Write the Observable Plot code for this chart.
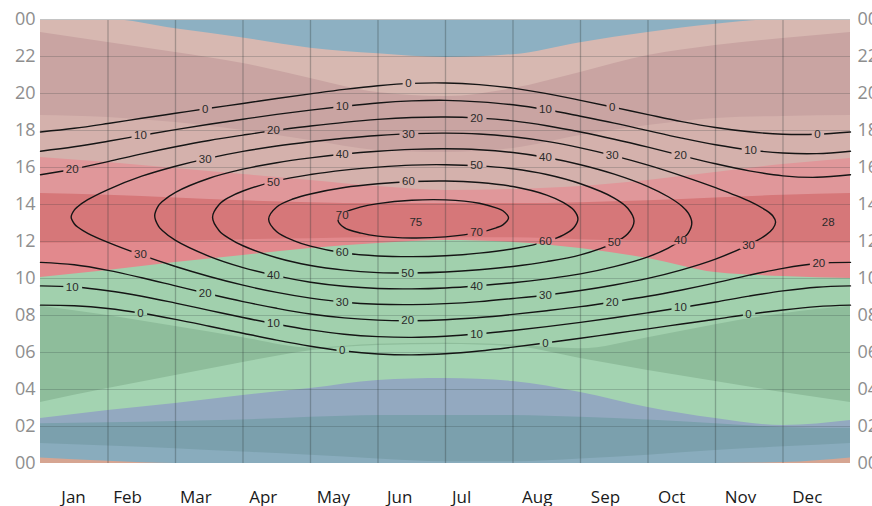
<!DOCTYPE html>
<html><head><meta charset="utf-8">
<script src="https://cdn.jsdelivr.net/npm/d3@7"></script>
<script src="https://cdn.jsdelivr.net/npm/@observablehq/plot@0.6"></script>
<style>
html,body{margin:0;padding:0;background:#fff;overflow:hidden}
#chart{width:872px;height:506px}
</style></head><body><div id="chart"></div>
<script>
// ---------- categories & ticks ----------
const months = ["Jan","Feb","Mar","Apr","May","Jun","Jul","Aug","Sep","Oct","Nov","Dec"];
const monthTicks = [0.49,1.29,2.30,3.30,4.34,5.32,6.24,7.36,8.37,9.35,10.37,11.36];
const monthBounds = [1,2,3,4,5,6,7,8,9,10,11];
const hourTicks = [0,2,4,6,8,10,12,14,16,18,20,22,24];
const hourLabels = ["00","02","04","06","08","10","12","14","16","18","20","22","00"];
const hourGrid = [2,4,6,8,10,12,14,16,18,20,22];

// ---------- background bands: lower boundary (hours) at month 0..12 ----------
const mGrid = [0,1,2,3,4,5,6,7,8,9,10,11,12];
const floorLine   = [0,0,0,0,0,0,0,0,0,0,0,0,0];
const salmonTop   = [0.3,0.12,0,0,0,0,0,0,0,0,0,0.05,0.3];
const paleBlueTop = [1.08,0.95,0.8,0.62,0.45,0.25,0.1,0.1,0.25,0.45,0.7,0.9,1.08];
const tealTop     = [2.15,2.2,2.27,2.35,2.5,2.6,2.6,2.6,2.5,2.35,2.15,1.95,1.9];
const blueTop     = [2.43,2.86,3.24,3.68,4.05,4.49,4.59,4.43,3.84,3.03,2.43,2.05,2.32];
const paleGreenTop= [3.3,4.05,4.76,5.46,6.1,6.38,6.43,6.32,5.68,5.03,4.43,3.84,3.3];
const darkGreenTop= [8.5,8.0,7.4,6.8,6.25,6.45,6.5,6.4,6.2,6.8,7.5,8.1,8.5];
const greenTop    = [10.05,10.43,10.86,11.24,11.62,11.89,12.05,11.95,11.62,11.08,10.32,10.11,10.0];
const redLowTop   = [11.9,11.95,12.0,12.1,12.15,12.2,12.2,12.2,12.1,12.0,11.95,11.9,11.9];
const darkRedTop  = [14.6,14.5,14.35,14.2,14.1,14.05,14.05,14.05,14.1,14.2,14.35,14.5,14.6];
const redTop      = [16.54,16.27,15.95,15.62,15.3,14.97,14.76,14.81,14.97,15.3,15.73,16.16,16.49];
const duskTop     = [18.81,18.70,18.43,18.0,17.46,16.92,16.81,17.03,17.73,18.27,18.65,18.76,18.81];
const mauveTop    = [23.30,22.76,22.22,21.62,20.81,20.05,19.84,20.27,21.14,22.05,22.59,22.97,23.30];
const nightStart  = [24,24,23.5,23.0,22.45,22.15,21.95,22.1,22.75,23.3,23.75,24,24];

// ---------- sun elevation contours ----------
const mHalf = [0,0.5,1,1.5,2,2.5,3,3.5,4,4.5,5,5.5,6,6.5,7,7.5,8,8.5,9,9.5,10,10.5,11,11.5,12];
const sunset0  = [17.92,18.12,18.38,18.66,18.93,19.20,19.46,19.73,19.98,20.22,20.42,20.55,20.57,20.48,20.29,19.99,19.63,19.25,18.86,18.48,18.16,17.93,17.80,17.80,17.92];
const sunrise0 = [8.56,8.53,8.38,8.12,7.79,7.42,7.04,6.67,6.34,6.08,5.92,5.87,5.93,6.08,6.29,6.53,6.77,7.03,7.28,7.54,7.80,8.07,8.30,8.48,8.56];
const evening10= [16.88,17.12,17.42,17.74,18.05,18.34,18.61,18.87,19.10,19.31,19.49,19.60,19.63,19.55,19.39,19.12,18.77,18.40,17.99,17.59,17.23,16.95,16.78,16.75,16.88];
const morning10= [9.60,9.54,9.34,9.04,8.67,8.28,7.89,7.53,7.22,6.99,6.86,6.82,6.88,7.01,7.19,7.40,7.63,7.88,8.15,8.43,8.73,9.05,9.33,9.53,9.60];
const evening20= [15.61,15.92,16.32,16.74,17.12,17.46,17.75,18.02,18.24,18.44,18.60,18.70,18.73,18.67,18.52,18.26,17.92,17.53,17.10,16.64,16.20,15.82,15.55,15.47,15.61];
const morning20= [10.87,10.74,10.44,10.04,9.60,9.16,8.75,8.39,8.08,7.87,7.75,7.72,7.77,7.89,8.06,8.26,8.48,8.75,9.04,9.38,9.76,10.18,10.55,10.81,10.87];

const loop30Up = [[0.454,13.32],[0.5,13.70],[0.55,13.88],[0.7,14.26],[1,14.81],[1.5,15.53],[2,16.07],[2.5,16.51],[3,16.87],[3.5,17.16],[4,17.39],[4.5,17.58],[5,17.73],[5.5,17.83],[6,17.86],[6.5,17.81],[7,17.66],[7.5,17.41],[8,17.06],[8.5,16.63],[9,16.13],[9.5,15.55],[10,14.91],[10.5,14.18],[10.75,13.68],[10.85,13.38],[10.89,13.05]];
const loop30Dn = [[0.5,12.96],[0.55,12.78],[0.7,12.44],[1,11.95],[1.5,11.26],[2,10.65],[2.5,10.11],[3,9.64],[3.5,9.25],[4,8.94],[4.5,8.72],[5,8.61],[5.5,8.59],[6,8.64],[6.5,8.75],[7,8.92],[7.5,9.11],[8,9.35],[8.5,9.65],[9,10.01],[9.5,10.47],[10,11.05],[10.5,11.83],[10.75,12.36],[10.85,12.70]];
const loop40Up = [[1.692,13.38],[1.75,13.95],[1.8,14.15],[2,14.66],[2.5,15.42],[3,15.91],[3.5,16.26],[4,16.52],[4.5,16.73],[5,16.88],[5.5,16.98],[6,17.01],[6.5,16.96],[7,16.81],[7.5,16.54],[8,16.15],[8.5,15.64],[9,14.97],[9.3,14.42],[9.5,13.92],[9.6,13.52],[9.649,13.00]];
const loop40Dn = [[1.75,12.82],[1.8,12.61],[2,12.06],[2.5,11.20],[3,10.59],[3.5,10.14],[4,9.80],[4.5,9.58],[5,9.46],[5.5,9.44],[6,9.49],[6.5,9.61],[7,9.77],[7.5,9.98],[8,10.25],[8.5,10.64],[9,11.17],[9.3,11.64],[9.5,12.11],[9.6,12.48]];
const loop50Up = [[2.549,13.31],[2.65,14.01],[2.8,14.40],[3,14.73],[3.5,15.28],[4,15.62],[4.5,15.86],[5,16.02],[5.5,16.13],[6,16.15],[6.5,16.09],[7,15.93],[7.5,15.62],[8,15.12],[8.5,14.35],[8.7,13.80],[8.793,13.10]];
const loop50Dn = [[2.65,12.57],[2.8,12.16],[3,11.77],[3.5,11.12],[4,10.70],[4.5,10.45],[5,10.32],[5.5,10.30],[6,10.35],[6.5,10.47],[7,10.65],[7.5,10.91],[8,11.28],[8.5,11.93],[8.7,12.42]];
const loop60Up = [[3.38,13.21],[3.5,13.87],[3.75,14.31],[4,14.57],[4.5,14.92],[5,15.12],[5.5,15.24],[6,15.27],[6.5,15.19],[7,14.97],[7.5,14.51],[7.75,14.10],[7.9,13.70],[7.962,13.21]];
const loop60Dn = [[3.5,12.53],[3.75,12.05],[4,11.75],[4.5,11.38],[5,11.22],[5.5,11.18],[6,11.23],[6.5,11.37],[7,11.61],[7.5,12.01],[7.75,12.36],[7.9,12.74]];
const loop70Up = [[4.408,13.15],[4.5,13.55],[4.75,13.87],[5,14.05],[5.5,14.23],[6,14.25],[6.5,14.07],[6.75,13.82],[6.85,13.66],[6.934,13.28]];
const loop70Dn = [[4.5,12.75],[4.75,12.45],[5,12.29],[5.5,12.19],[6,12.25],[6.5,12.49],[6.75,12.74],[6.85,12.90]];

// contour labels: [text, branch, month position]
const contourLabels = [
 ["0","up",2.44],["0","up",5.45],["0","up",8.47],["0","up",11.51],
 ["10","up",1.48],["10","up",4.47],["10","up",7.48],["10","up",10.52],
 ["20","up",0.47],["20","up",3.45],["20","up",6.46],["20","up",9.48],
 ["30","up",2.44],["30","up",5.45],["30","up",8.47],
 ["40","up",4.47],["40","up",7.48],
 ["50","up",3.45],["50","up",6.46],
 ["60","up",5.45],
 ["70","up",4.47],
 ["70","dn",6.46],
 ["60","dn",4.47],["60","dn",7.48],
 ["50","dn",5.44],["50","dn",8.5],
 ["40","dn",3.45],["40","dn",6.46],["40","dn",9.48],
 ["30","dn",1.48],["30","dn",4.47],["30","dn",7.48],["30","dn",10.49],
 ["20","dn",2.44],["20","dn",5.44],["20","dn",8.47],["20","dn",11.53],
 ["10","dn",0.47],["10","dn",3.45],["10","dn",6.46],["10","dn",9.48],
 ["0","dn",1.48],["0","dn",4.47],["0","dn",7.48],["0","dn",10.49]
];
const peakLabels = [["75",5.56,13.03],["28",11.67,13.03]];

// ---------- build tables ----------
const bandBounds = [floorLine,salmonTop,paleBlueTop,tealTop,blueTop,paleGreenTop,darkGreenTop,greenTop,redLowTop,darkRedTop,redTop,duskTop,mauveTop,nightStart];
const bandColors = ["#d6a592","#89acbd","#7ba0ad","#93a9c0","#a3d3b1","#8ebd9b","#a1d0ad","#e2898d","#d67779","#e0979a","#d4b1ac","#c9a4a2","#d7b8b1","#8db0c2"];

const half = a => a.map((h,i) => [mHalf[i], h]);
const branches = {
  "up0": half(sunset0), "dn0": half(sunrise0),
  "up10": half(evening10), "dn10": half(morning10),
  "up20": half(evening20), "dn20": half(morning20),
  "up30": loop30Up, "dn30": loop30Dn, "up40": loop40Up, "dn40": loop40Dn,
  "up50": loop50Up, "dn50": loop50Dn, "up60": loop60Up, "dn60": loop60Dn,
  "up70": loop70Up, "dn70": loop70Dn
};
const openRows = ["up0","dn0","up10","dn10","up20","dn20"].flatMap(id => branches[id].map(([m,h]) => ({id,m,h})));
const loopRows = ["30","40","50","60","70"].flatMap(l => [...branches["up"+l], ...branches["dn"+l].slice().reverse()].map(([m,h]) => ({id:l,m,h})));

function interp(pts, m) {
  for (let i = 1; i < pts.length; i++) {
    if (m <= pts[i][0]) {
      const [m0,h0] = pts[i-1], [m1,h1] = pts[i];
      return h0 + (h1 - h0) * (m - m0) / (m1 - m0);
    }
  }
  return pts[pts.length-1][1];
}
const labelRows = contourLabels.map(([t, b, m]) => ({t, m, h: interp(branches[b + t], m)}));

const bandMarks = bandBounds.map((lo, k) => Plot.areaY(mGrid.map((m,i) => ({m, lo: lo[i]})), {
  x: "m", y1: "lo", y2: () => 24, fill: bandColors[k], curve: "monotone-x"
}));

const plot = Plot.plot({
  width: 872, height: 506,
  marginLeft: 40, marginRight: 22, marginTop: 19, marginBottom: 43,
  x: {domain: [0, 12], label: null},
  y: {domain: [0, 24], label: null},
  style: {fontFamily: "'Liberation Sans', Arial, sans-serif", background: "#fff"},
  marks: [
    ...bandMarks,
    Plot.ruleX(monthBounds, {stroke: "#2b3535", strokeOpacity: 0.3, strokeWidth: 1.3}),
    Plot.ruleY(hourGrid, {stroke: "#2b3535", strokeOpacity: 0.22, strokeWidth: 1.2}),
    Plot.ruleY([24], {stroke: "#c4c4c4", strokeWidth: 1}),
    Plot.line(openRows, {x: "m", y: "h", z: "id", stroke: "#151515", strokeWidth: 1.4, curve: "catmull-rom"}),
    Plot.line(loopRows, {x: "m", y: "h", z: "id", stroke: "#151515", strokeWidth: 1.4, curve: "catmull-rom-closed"}),
    Plot.text(labelRows, {x: "m", y: "h", text: "t", fontSize: 11.5, fill: "#2a2a2a"}),
    Plot.text(peakLabels, {x: d => d[1], y: d => d[2], text: d => d[0], fontSize: 11.5, fill: "#2a2a2a"}),
    Plot.axisY(hourTicks, {anchor: "left", label: null, tickSize: 0, tickPadding: 5, fontSize: 18, color: "#8e8e8e",
      fontFamily: "'Open Sans', sans-serif", tickFormat: d => hourLabels[hourTicks.indexOf(d)]}),
    Plot.axisY(hourTicks, {anchor: "right", label: null, tickSize: 0, tickPadding: 7, fontSize: 18, color: "#8e8e8e",
      fontFamily: "'Open Sans', sans-serif", tickFormat: d => hourLabels[hourTicks.indexOf(d)]}),
    Plot.axisX(monthTicks, {anchor: "bottom", label: null, tickSize: 0, tickPadding: 27, fontSize: 17, color: "#1a1a1a",
      fontFamily: "'Open Sans', sans-serif", tickFormat: d => months[monthTicks.indexOf(d)]})
  ]
});
document.getElementById("chart").appendChild(plot);

// cut small gaps in the contour lines behind their labels
const svg = d3.select(plot);
const box = plot.getBoundingClientRect();
const defs = svg.insert("defs", ":first-child");
const mask = defs.append("mask").attr("id", "label-gaps").attr("maskUnits", "userSpaceOnUse")
  .attr("x", 0).attr("y", 0).attr("width", 872).attr("height", 506);
mask.append("rect").attr("x", 0).attr("y", 0).attr("width", 872).attr("height", 506).attr("fill", "white");
svg.selectAll('g[aria-label="text"] text').each(function() {
  const r = this.getBoundingClientRect();
  mask.append("rect")
    .attr("x", r.left - box.left - 3).attr("y", r.top - box.top + 2)
    .attr("width", r.width + 6).attr("height", Math.max(0, r.height - 4))
    .attr("fill", "black");
});
svg.selectAll('g[aria-label="line"]').attr("mask", "url(#label-gaps)");
</script>
</body></html>
